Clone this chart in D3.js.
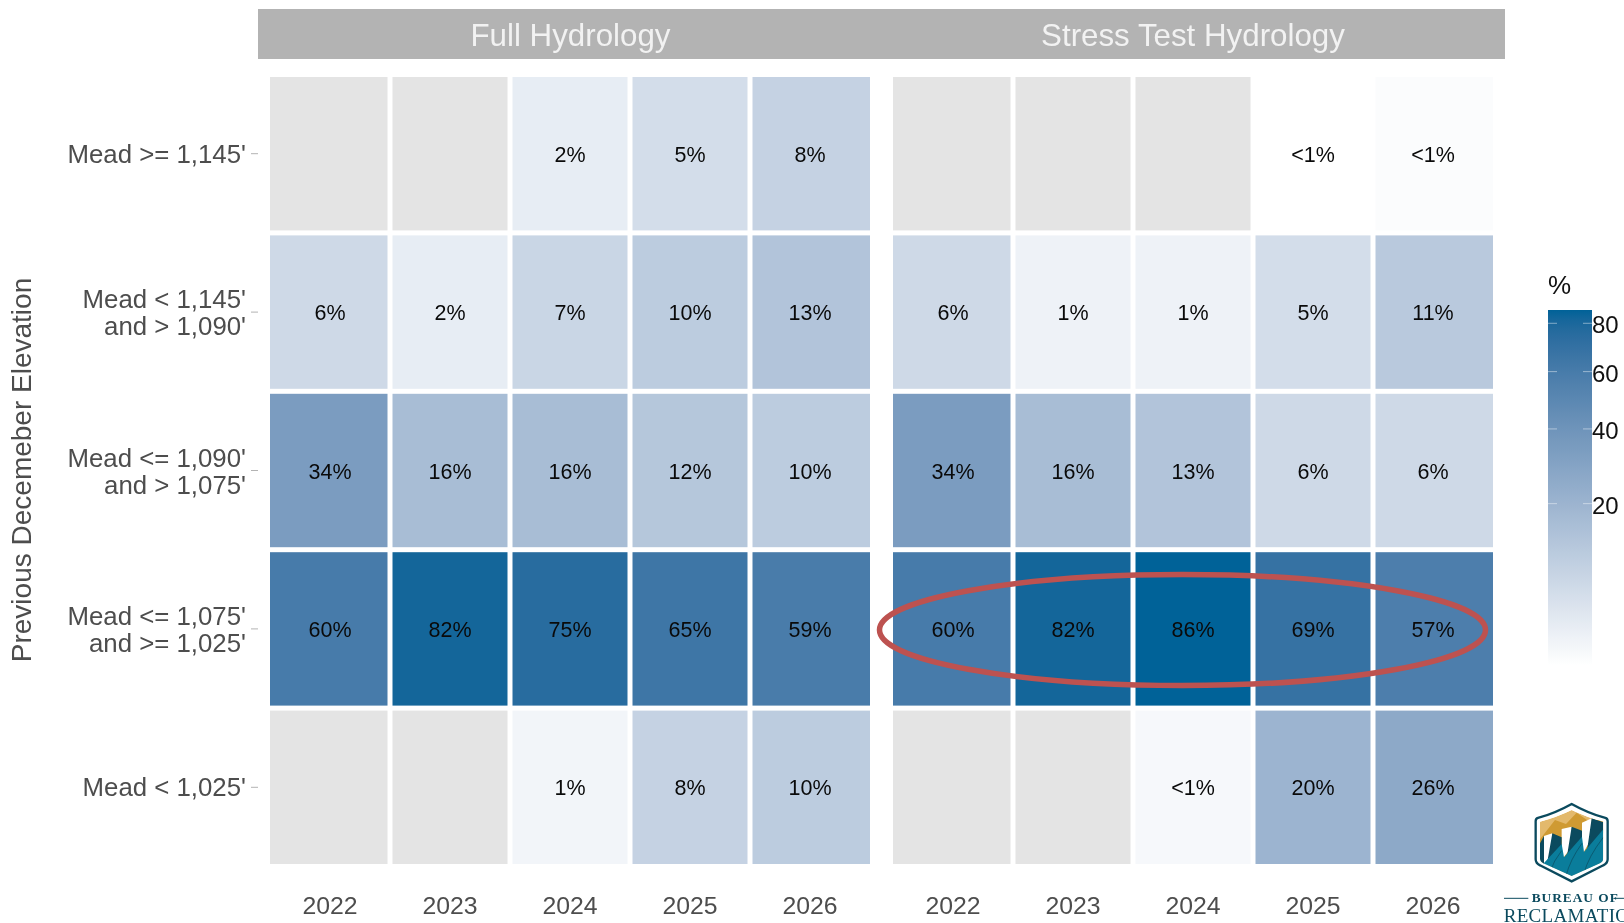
<!DOCTYPE html>
<html><head><meta charset="utf-8">
<script src="https://cdn.jsdelivr.net/npm/d3@7/dist/d3.min.js"></script>
<style>html,body{margin:0;padding:0;background:#fff;overflow:hidden}svg{display:block;filter:blur(0.35px)}text{font-family:"Liberation Sans",Arial,sans-serif}</style>
</head><body><svg id="c" width="1624" height="923"></svg>
<script>
const years = ["2022","2023","2024","2025","2026"];
const rowLabels = [["Mead >= 1,145'"],["Mead < 1,145'","and > 1,090'"],["Mead <= 1,090'","and > 1,075'"],["Mead <= 1,075'","and >= 1,025'"],["Mead < 1,025'"]];
const panelNames = ["Full Hydrology","Stress Test Hydrology"];
const fullValues = [
 [null,null,2,5,8],
 [6,2,7,10,13],
 [34,16,16,12,10],
 [60,82,75,65,59],
 [null,null,1,8,10]];
const stressValues = [
 [null,null,null,0.1,0.4],
 [6,1.3,1.3,5,11],
 [34,16,13,6,6],
 [60,82,86,69,57],
 [null,null,0.7,20,26]];
const legendTicks = [20,40,60,80];
const maxValue = 86;
const yAxisTitle = "Previous Decemeber Elevation";

const svg = d3.select("#c");
const colorPos = d3.scaleSqrt().domain([0,maxValue]).range([0,1]);
const ramp = d3.interpolateLab("#ffffff","#006298");
const shade = t => ramp(Math.max(0,(t-0.05)/0.95));
const color = v => shade(colorPos(v));
const NA = "#e4e4e4";
const GAP = 2.5;

svg.append("rect").attr("x",258).attr("y",9).attr("width",1247).attr("height",50).attr("fill","#b3b3b3");

const y = d3.scaleBand().domain(d3.range(5)).range([74.5,866.5]);
const panels = [{x0:270,x1:870,vals:fullValues,cx:570.5},{x0:893,x1:1493,vals:stressValues,cx:1193}];

panels.forEach((p,pi)=>{
  const x = d3.scaleBand().domain(years).range([p.x0,p.x1]);
  const g = svg.append("g");
  p.vals.forEach((row,r)=>{
    row.forEach((v,c)=>{
      const xx = x(years[c]);
      const l = c===0?0:GAP, rr = c===4?0:GAP;
      g.append("rect").attr("x",xx+l).attr("y",y(r)+GAP)
       .attr("width",x.bandwidth()-l-rr).attr("height",y.bandwidth()-2*GAP)
       .attr("fill",v===null?NA:color(v));
      if(v!==null){
        g.append("text").attr("x",xx+x.bandwidth()/2).attr("y",y(r)+y.bandwidth()/2+8)
         .attr("text-anchor","middle").attr("font-size",21.5).attr("fill","#0a0a0a")
         .text(v<1?"<1%":Math.round(v)+"%");
      }
    });
  });
  const ax = svg.append("g").attr("transform","translate(0,866)")
    .call(d3.axisBottom(x).tickSize(0).tickPadding(0));
  ax.select(".domain").remove();
  ax.selectAll("text").attr("font-size",24.8).attr("fill","#4d4d4d").attr("dy",0).attr("y",48)
    .style("font-family",'"Liberation Sans"');
  svg.append("text").attr("x",p.cx).attr("y",46).attr("text-anchor","middle")
    .attr("font-size",31.3).attr("fill","#f2f2f2").text(panelNames[pi]);
});

const ay = svg.append("g").attr("transform","translate(258,0)")
  .call(d3.axisLeft(y).tickSize(7).tickFormat(""));
ay.select(".domain").remove();
ay.selectAll("line").attr("stroke","#b3b3b3").attr("stroke-width",1);
rowLabels.forEach((ls,r)=>{
  const cy = y(r)+y.bandwidth()/2;
  const t = svg.append("text").attr("text-anchor","end").attr("font-size",25.8).attr("fill","#4d4d4d");
  ls.forEach((s,i)=>{
    t.append("tspan").attr("x",246).attr("y",cy+(ls.length===1?9:(i===0?-4:23))).text(s);
  });
});
svg.append("text").attr("transform","translate(31,470) rotate(-90)").attr("text-anchor","middle")
  .attr("font-size",28).attr("fill","#4d4d4d").text(yAxisTitle);

const ly = d3.scaleSqrt().domain([0,maxValue]).range([684,310]);
const grad = svg.append("defs").append("linearGradient").attr("id","lg").attr("x1",0).attr("y1",1).attr("x2",0).attr("y2",0);
d3.range(0,41).forEach(i=>{
  const f=i/40; grad.append("stop").attr("offset",f).attr("stop-color",shade(f));
});
svg.append("rect").attr("x",1548).attr("y",ly(maxValue)).attr("width",44).attr("height",ly(0)-ly(maxValue)).attr("fill","url(#lg)");
legendTicks.forEach(v=>{
  [[1548,1557],[1583,1592]].forEach(s=>{
    svg.append("line").attr("x1",s[0]).attr("x2",s[1]).attr("y1",ly(v)).attr("y2",ly(v))
      .attr("stroke","#fff").attr("stroke-opacity",.45).attr("stroke-width",1);
  });
  svg.append("text").attr("x",1592).attr("y",ly(v)+10).attr("font-size",24).attr("fill","#111").text(v);
});
svg.append("text").attr("x",1548).attr("y",294).attr("font-size",26).attr("fill","#111").text("%");

svg.append("ellipse").attr("cx",1182.5).attr("cy",630).attr("rx",303).attr("ry",55.5)
  .attr("fill","none").attr("stroke","#bd5250").attr("stroke-width",5.5);

// logo, drawn in the pixels of a 3x crop whose corner is (1460,780)
const logo = svg.append("g").attr("transform","translate(1460,780) scale(0.3333)");
const dark="#0b4a5e", teal="#0a7d9b";
const inner="M335 90 Q380 112 430 125 L430 235 Q430 245 420 250 L335 288 L250 250 Q240 245 240 235 L240 125 Q290 112 335 90 Z";
logo.append("clipPath").attr("id","sh").append("path").attr("d",inner);
logo.append("path").attr("d","M335 72 Q385 100 436 114 Q443 116 443 124 L443 238 Q443 250 430 256 L335 304 L240 256 Q227 250 227 238 L227 124 Q227 116 234 114 Q285 100 335 72 Z")
  .attr("fill","#fff").attr("stroke",dark).attr("stroke-width",7);
const ins = logo.append("g").attr("clip-path","url(#sh)");
ins.append("path").attr("d",inner).attr("fill","#e3b96c");
ins.append("path").attr("d","M240 178 L285 120 L318 132 L350 98 L395 130 L430 110 L430 230 L240 230 Z").attr("fill","#cf9a32");
ins.append("path").attr("d","M240 190 L252 168 L252 260 L240 270 Z").attr("fill",dark);
ins.append("path").attr("d","M252 168 L277 160 L277 240 L252 262 Z M305 147 L335 140 L335 200 L305 240 Z M366 128 L395 115 L395 175 L366 225 Z").attr("fill","#fff");
ins.append("path").attr("d","M277 160 L305 172 L305 205 L262 245 Z M335 140 L366 152 L366 185 L320 235 Z M395 115 L430 127 L430 160 L380 220 Z").attr("fill",dark);
ins.append("path").attr("d","M240 295 L240 262 L305 192 L312 232 L366 170 L372 216 L430 148 L430 295 Z").attr("fill",teal);
ins.append("path").attr("d","M268 280 Q282 240 305 212 M318 288 Q330 240 366 190 M372 280 Q385 230 430 172").attr("fill","none").attr("stroke",dark).attr("stroke-width",2);
logo.append("path").attr("d","M132 355 L205 355 M462 355 L492 355").attr("stroke",dark).attr("stroke-width",3);
logo.append("text").attr("x",215).attr("y",367).attr("font-size",40).attr("letter-spacing",3).attr("fill",dark)
  .style("font-family",'"Liberation Serif"').style("font-weight","bold").text("BUREAU OF");
logo.append("text").attr("x",131).attr("y",427).attr("font-size",57).attr("letter-spacing",1).attr("fill",dark)
  .style("font-family",'"Liberation Serif"').text("RECLAMATION");
</script></body></html>
